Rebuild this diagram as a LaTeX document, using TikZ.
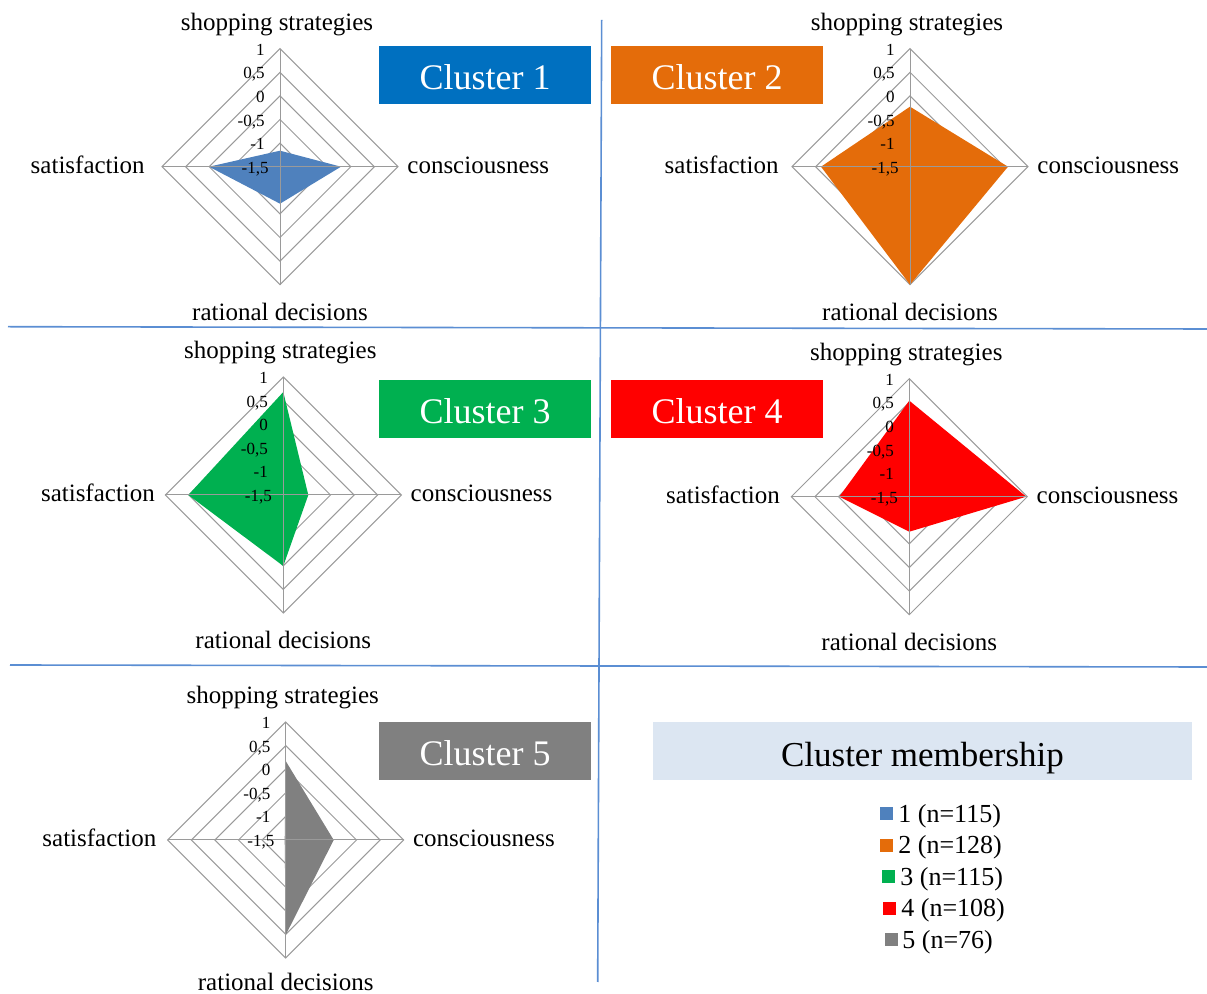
\documentclass[tikz,border=0pt]{standalone}
\usepackage{fontspec}
\setmainfont{Liberation Serif}
\definecolor{cA}{HTML}{4F81BD}
\definecolor{cAbox}{HTML}{0070C0}
\definecolor{cB}{HTML}{E46C0A}
\definecolor{cC}{HTML}{00B050}
\definecolor{cD}{HTML}{FF0000}
\definecolor{cE}{HTML}{808080}
\definecolor{memb}{HTML}{DCE6F2}
\definecolor{sepc}{HTML}{5B8ED3}
\definecolor{gridc}{HTML}{9A9A9A}
\tikzset{
 gridline/.style={draw=gridc, line width=0.5pt},
 cat/.style={font=\fontsize{12.5}{14}\selectfont, inner sep=0pt, text height=0.7em, text depth=0.25em, yshift=-2pt},
 catlow/.style={font=\fontsize{12.5}{14}\selectfont, inner sep=0pt, text height=0.7em, text depth=0pt, yshift=-2pt},
 ticklab/.style={font=\fontsize{8.5}{9}\selectfont, inner sep=0pt, anchor=east, text height=0.7em, text depth=0.2em, yshift=-0.8pt},
 clbox/.style={minimum width=106pt, minimum height=29pt, inner sep=0pt, text=white, font=\fontsize{18}{20}\selectfont, text height=14.2pt, text depth=0pt},
 legsq/.style={minimum size=6.5pt, inner sep=0pt},
 legtxt/.style={font=\fontsize{13}{15}\selectfont, inner sep=0pt, anchor=west, text height=0.7em, text depth=0.25em, yshift=-2pt},
 sepline/.style={draw=sepc, line width=0.8pt},
}
\def\botoff{143}
\newcommand{\radarplot}[9]{%
\begin{scope}[shift={(#2,#3)}]
 \foreach \rr in {23.6,47.2,70.8,94.4,118}{\draw[gridline] (0,-\rr) -- (\rr,0) -- (0,\rr) -- (-\rr,0) -- cycle;}
 \fill[#4] (0,-#5) -- (#6,0) -- (0,#7) -- (-#8,0) -- cycle;
 \draw[gridline] (0,-118) -- (0,118) (-118,0) -- (118,0);
 \node[ticklab] (#1ta) at (-15,-118) {1};
 \node[ticklab] (#1tb) at (-15,-94.4) {0,5};
 \node[ticklab] (#1tc) at (-15,-70.8) {0};
 \node[ticklab] (#1td) at (-15,-47.2) {-0,5};
 \node[ticklab] (#1te) at (-15,-23.6) {-1};
 \node[ticklab] (#1tf) at (-11,0) {-1,5};
 \node[cat] (#1top) at (-3,-145) {shopping strategies};
 \node[cat,anchor=west] (#1right) at (127,-2) {consciousness};
 \node[cat,anchor=east] (#1left) at (-#9,-2) {satisfaction};
 \node[catlow] (#1bot) at (0,\botoff) {rational decisions};
\end{scope}}
\begin{document}
\begin{tikzpicture}[x=0.5pt,y=-0.5pt]
\useasboundingbox (0,0) rectangle (1207,994);
% separators
\coordinate (h1a) at (8,326.7); \coordinate (h1b) at (1207,329);
\coordinate (h2a) at (10,665); \coordinate (h2b) at (1207,667);
\coordinate (va) at (601.7,20); \coordinate (vb) at (597.7,982);
\draw[sepline] (h1a) -- (h1b);
\draw[sepline] (h2a) -- (h2b);
\draw[sepline] (va) -- (vb);
% charts
\radarplot{a}{280}{166.7}{cA}{16}{61}{37}{71}{135}
\radarplot{b}{910}{166.7}{cB}{60}{98}{118}{89}{131}
\radarplot{c}{283.3}{495}{cC}{103}{25}{71}{95}{128}
\radarplot{d}{909.3}{496.7}{cD}{96}{117}{35}{70}{129}
\def\botoff{140}
\radarplot{e}{285.7}{840}{cE}{79}{48}{95}{1}{129}
% cluster boxes
\node[clbox, fill=cAbox] (k1) at (485,75) {Cluster 1};
\node[clbox, fill=cB] (k2) at (717,75) {Cluster 2};
\node[clbox, fill=cC] (k3) at (485,409.5) {Cluster 3};
\node[clbox, fill=cD] (k4) at (717,409.5) {Cluster 4};
\node[clbox, fill=cE] (k5) at (485,751.5) {Cluster 5};
\node[fill=memb, minimum width=269.5pt, minimum height=29pt, inner sep=0pt, font=\fontsize{17.5}{20}\selectfont, text height=15.9pt, text depth=0pt] (mem) at (922.5,751) {Cluster membership};
% legend
\node[legsq, fill=cA] (s1) at (886.5,814) {};
\node[legsq, fill=cB] (s2) at (886.5,845.5) {};
\node[legsq, fill=cC] (s3) at (888.5,877) {};
\node[legsq, fill=cD] (s4) at (889.5,908.5) {};
\node[legsq, fill=cE] (s5) at (891,940) {};
\node[legtxt] (l1) at (898,814) {1 (n=115)};
\node[legtxt] (l2) at (898,845.5) {2 (n=128)};
\node[legtxt] (l3) at (900,877) {3 (n=115)};
\node[legtxt] (l4) at (901,908.5) {4 (n=108)};
\node[legtxt] (l5) at (902,940) {5 (n=76)};
\end{tikzpicture}
\end{document}
